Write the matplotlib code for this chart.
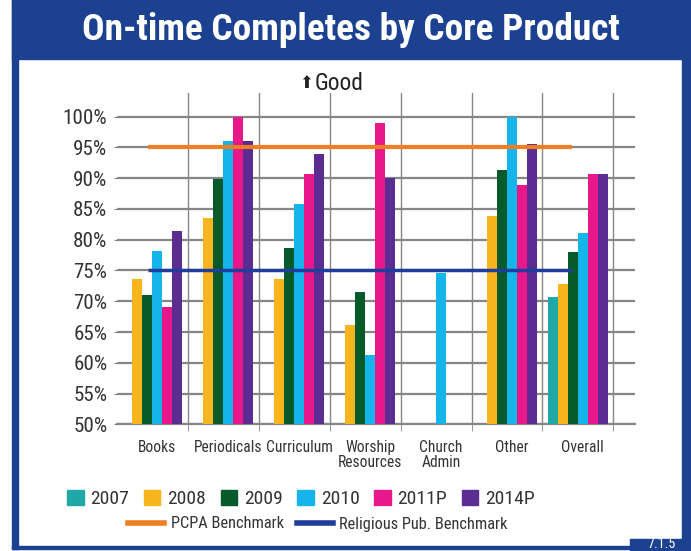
import os
import numpy as np
import matplotlib
matplotlib.use("Agg")
import matplotlib.pyplot as plt
import matplotlib.font_manager as fm
from matplotlib.patches import Rectangle, Patch
from matplotlib.lines import Line2D

# data
categories = ["Books", "Periodicals", "Curriculum", "Worship\nResources", "Church\nAdmin", "Other", "Overall"]
series_names = ["2007", "2008", "2009", "2010", "2011P", "2014P"]
v2007 = [0, 0, 0, 0, 0, 0, 70.7]
v2008 = [73.6, 83.5, 73.6, 66.1, 0, 83.9, 72.8]
v2009 = [71.0, 89.9, 78.6, 71.5, 0, 91.3, 78.0]
v2010 = [78.2, 96.1, 85.8, 61.3, 74.6, 100.0, 81.1]
v2011p = [69.0, 100.0, 90.7, 99.0, 0, 88.9, 90.7]
v2014p = [81.5, 96.1, 94.0, 90.0, 0, 95.6, 90.7]
pcpa_benchmark = 95
religious_benchmark = 75
y_ticks = [50, 55, 60, 65, 70, 75, 80, 85, 90, 95, 100]

series = [v2007, v2008, v2009, v2010, v2011p, v2014p]
colors = ["#1fa8a6", "#f8b51d", "#075b2b", "#15b4ea", "#e8178a", "#5b2c92"]
frame_blue = "#1c4190"
grid_gray = "#868686"
text_col = "#333333"


# the original uses a condensed face; use one if the machine has it
def find_file(names):
    for f in fm.fontManager.ttflist:
        if os.path.basename(f.fname) in names:
            return f.fname
    return None


cond_sets = [
    ("RobotoCondensed-Regular.ttf", "RobotoCondensed-Bold.ttf", 1.12),
    ("LiberationSansNarrow-Regular.ttf", "LiberationSansNarrow-Bold.ttf", 1.2),
    ("DejaVuSansCondensed.ttf", "DejaVuSansCondensed-Bold.ttf", 0.98),
]
reg_file, bold_file, scale = None, None, 1.0
for r, b, s in cond_sets:
    rf = find_file([r])
    if rf:
        reg_file, bold_file, scale = rf, find_file([b]) or rf, s
        break


def font(size, bold=False):
    if reg_file:
        return fm.FontProperties(fname=bold_file if bold else reg_file, size=size * scale)
    return fm.FontProperties(family="Roboto", weight="bold" if bold else "normal", size=size)


W, H = 691, 551
fig = plt.figure(figsize=(W / 100, H / 100), dpi=100)


def px_rect(x0, y0, x1, y1, **kw):
    # rectangle given in top-left pixel coords
    r = Rectangle((x0 / W, 1 - y1 / H), (x1 - x0) / W, (y1 - y0) / H,
                  transform=fig.transFigure, figure=fig, **kw)
    fig.patches.append(r)


# blue frame around the chart
px_rect(12, 0, 691, 59, color=frame_blue, zorder=0)
px_rect(12, 0, 18, 549, color=frame_blue, zorder=0)
px_rect(682, 0, 691, 551, color=frame_blue, zorder=0)
px_rect(12, 546, 691, 549, color=frame_blue, zorder=0)
px_rect(630, 539, 691, 551, color=frame_blue, zorder=0)

fig.text(351 / W, 1 - 30 / H, "On-time Completes by Core Product", color="white",
         fontproperties=font(24, bold=True), ha="center", va="center")
fig.text(661 / W, 0.0, "7.1.5", color="white", fontproperties=font(9),
         ha="center", va="bottom")

ax = fig.add_axes([117 / W, 1 - 424.3 / H, 518 / W, (424.3 - 93) / H])
ax.set_facecolor("none")

x = np.arange(len(categories))
w = 0.141
for k, (name, vals, c) in enumerate(zip(series_names, series, colors)):
    ax.bar(x + (k - 2.5) * w, vals, width=w, color=c, zorder=3, label=name)

ax.plot([-0.06, 5.92], [pcpa_benchmark] * 2, color="#f07e22", lw=3, zorder=4, solid_capstyle="butt")
ax.plot([-0.06, 5.92], [religious_benchmark] * 2, color="#1f3d9c", lw=2.5, zorder=4, solid_capstyle="butt")

ax.set_ylim(50, 103.85)
ax.set_xlim(-0.5, 6.806)
ax.set_yticks(y_ticks)
ax.set_yticklabels([f"{t}%" for t in y_ticks])
ax.set_xticks(x + 0.07)
ax.set_xticklabels(categories, linespacing=1.0)
ax.set_xticks(np.arange(1, 8) - 0.5, minor=True)

ax.grid(axis="y", color=grid_gray, lw=1.6, zorder=1)
ax.grid(axis="x", which="minor", color=grid_gray, lw=1.0, zorder=1)
for s in ["top", "right", "left"]:
    ax.spines[s].set_visible(False)
ax.spines["bottom"].set_color(grid_gray)
ax.spines["bottom"].set_linewidth(1.6)

ax.tick_params(axis="y", length=2, color=grid_gray, pad=5, labelcolor=text_col)
ax.tick_params(axis="x", which="major", length=0, pad=11, labelcolor=text_col)
ax.tick_params(axis="x", which="minor", length=5, color=grid_gray)
for lab in ax.get_yticklabels():
    lab.set_fontproperties(font(13.5))
for lab in ax.get_xticklabels():
    lab.set_fontproperties(font(10))

fig.text(313 / W, 1 - 83 / H, "\u2b06", fontsize=12, family="DejaVu Sans",
         color="#222222", ha="right", va="center")
fig.text(315 / W, 1 - 83 / H, "Good", fontproperties=font(15),
         color="#222222", ha="left", va="center")

# legends
bar_handles = [Patch(color=c) for c in colors]
leg1 = fig.legend(bar_handles, series_names, loc="center", bbox_to_anchor=(301 / W, 1 - 499 / H),
                  ncol=6, frameon=False, handlelength=0.85, handleheight=0.85,
                  handletextpad=0.35, columnspacing=0.75, prop=font(12.5))
for t in leg1.get_texts():
    t.set_color(text_col)
line_handles = [Line2D([], [], color="#f07e22", lw=4), Line2D([], [], color="#1f3d9c", lw=4)]
leg2 = fig.legend(line_handles, ["PCPA Benchmark", "Religious Pub. Benchmark"], loc="center",
                  bbox_to_anchor=(318 / W, 1 - 524 / H), ncol=2, frameon=False,
                  handlelength=2.2, handletextpad=0.4, columnspacing=0.8,
                  prop=font(10.5))
for t in leg2.get_texts():
    t.set_color(text_col)

fig.savefig("out.png", dpi=100)
